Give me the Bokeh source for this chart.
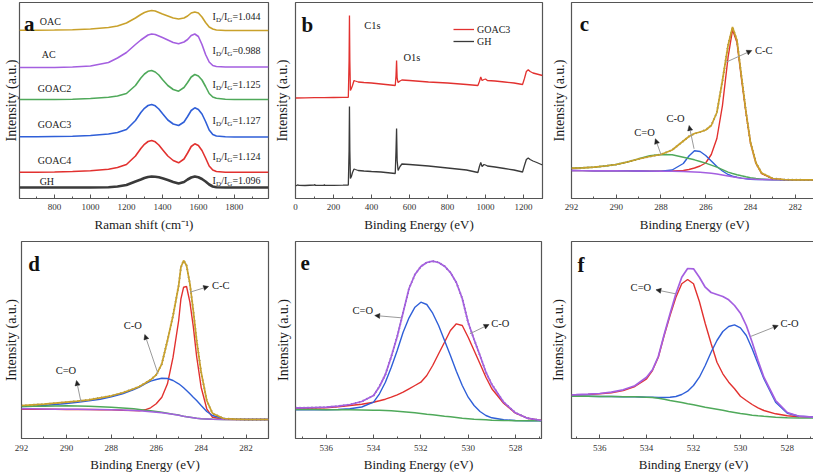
from bokeh.plotting import figure
from bokeh.layouts import column, row
from bokeh.models import Range1d, FixedTicker, Arrow, NormalHead, ColumnDataSource
from bokeh.core.properties import value
from bokeh.embed import file_html
from bokeh.resources import INLINE

FONT = "Liberation Serif"
RED = "#E2312F"
BLUE = "#2F5FD8"
GREEN = "#4FA95A"
PURPLE = "#A45FE0"
GOLD = "#C9A12B"
GREY = "#3A3A3A"
RAW = "#4A4A4A"

# ---------------- panel a : Raman ----------------
RAMAN_SHIFT = [605, 700, 800, 900, 1000, 1100, 1150, 1200, 1250, 1280, 1300, 1320, 1340, 1360, 1380,
               1400, 1430, 1460, 1490, 1520, 1540, 1560, 1580, 1600, 1620, 1640, 1660, 1680, 1700,
               1750, 1800, 1900, 1990]
RAMAN_OAC = [170.3, 170.3, 170.5, 170.8, 171.5, 173, 174.5, 177.5, 182.5, 186, 188, 189.3, 190, 189.5, 188,
             186.5, 184.5, 182.5, 181.5, 182.5, 184.5, 187.5, 188.5, 187.5, 183.5, 178, 173.5, 171.5, 170.5,
             170, 170, 170, 170]
RAMAN_AC = [133, 133, 133, 133.5, 134.5, 138, 142.5, 148, 156, 160.5, 163, 165.5, 166.5, 166, 164.5,
            163, 160.5, 158, 156.7, 158.5, 161, 165, 166.5, 164, 156, 146, 138.5, 135, 134,
            133.5, 133.5, 133.5, 133.5]
RAMAN_GOAC2 = [101, 101, 101, 101.3, 102, 103.3, 104.5, 107, 115, 122.5, 126.5, 129.2, 130, 128.5, 125.5,
               121, 115, 111, 109.3, 113, 118, 123.5, 126, 124.5, 120.5, 114, 107, 103.5, 102.2,
               101.3, 101, 101, 101]
RAMAN_GOAC3 = [63.7, 63.7, 64, 64.3, 65, 66.5, 68, 71, 80, 88, 92.2, 95, 96, 94.7, 91.5,
               87, 80.5, 76.5, 75, 78.5, 84, 90, 92.7, 91, 86.5, 79, 70.5, 66, 64.5,
               63.7, 63.5, 63.5, 63.5]
RAMAN_GOAC4 = [28.2, 28.3, 28.5, 29, 29.7, 31.3, 33, 36, 44.5, 52, 56.2, 59, 60, 58.7, 55.5,
               51, 44.5, 40, 37.7, 41.5, 47.5, 54, 56.7, 55, 50, 42.5, 34.5, 30.5, 29,
               28.3, 28.2, 28.2, 28.2]
RAMAN_GH = [13, 13, 13, 13, 13, 13.3, 14, 15.5, 19, 21, 22.5, 23.5, 24, 23.8, 23.2,
            22.2, 20.5, 18.5, 17, 18.5, 21, 23, 24, 23.2, 21.5, 19, 16, 14, 13.2,
            13, 13, 13, 13]
SAMPLE_NAMES = ["OAC", "AC", "GOAC2", "GOAC3", "GOAC4", "GH"]
SAMPLE_X = [718, 729, 707, 707, 707, 717]
SAMPLE_Y = [179.3, 146, 112, 76, 40, 19.3]
RATIO_VALUES = ["1.044", "0.988", "1.125", "1.127", "1.124", "1.096"]
RATIO_X = [1679] * 6
RATIO_Y = [184, 150, 115.7, 80, 44, 20]

# ---------------- panel b : survey ----------------
SURVEY_BE_GOAC3 = [0, 50, 100, 150, 200, 250, 278, 282, 284, 286, 289, 294, 300, 308, 315, 330, 360, 400,
                   450, 500, 525, 529, 532, 535, 540, 550, 560, 600, 700, 800, 900, 960, 968, 975, 982,
                   992, 1000, 1010, 1050, 1100, 1150, 1195, 1205, 1215, 1225, 1235, 1250, 1270, 1300]
SURVEY_GOAC3 = [102.5, 102.7, 102.8, 102.9, 103, 103.1, 103.2, 140, 185, 140, 110, 112, 115, 120, 119.5,
                118.5, 118, 117.5, 116.5, 115.5, 115, 125, 140, 122, 118, 119.5, 120.5, 120, 118.5, 117.5,
                116, 115, 119, 123.5, 120, 121, 121.5, 120, 119.5, 118.5, 117.5, 116, 122, 129, 130.7,
                129, 127.5, 126.5, 125]
SURVEY_BE_GH = [0, 10, 20, 50, 100, 102, 104, 150, 152, 154, 200, 250, 278, 282, 284, 286, 289, 294, 300,
                308, 315, 330, 360, 400, 450, 500, 525, 529, 532, 535, 540, 550, 560, 600, 700, 800, 900,
                960, 968, 975, 982, 992, 1000, 1010, 1050, 1100, 1150, 1195, 1205, 1215, 1225, 1235,
                1250, 1270, 1300]
SURVEY_GH = [14.5, 15.5, 15.2, 15, 15.5, 16, 15.2, 15.2, 15.8, 15.2, 15.2, 15.3, 15.4, 50, 94, 50, 22, 24,
             28, 31.5, 31, 30, 29.5, 29, 28.5, 27.5, 27, 50, 72, 40, 30, 34, 36.5, 36, 34.5, 32.5, 30.5,
             28, 34, 38, 34, 36, 35.5, 34.5, 33.5, 32, 30.5, 28.5, 35, 41, 42.5, 41, 39.5, 38, 35.5]

# ---------------- panel c : C1s GOAC3 ----------------
C_BE = [292, 291.5, 291, 290.5, 290, 289.5, 289, 288.5, 288, 287.5, 287, 286.75, 286.5, 286.25, 286,
        285.75, 285.5, 285.25, 285, 284.8, 284.6, 284.4, 284.2, 284, 283.75, 283.5, 283, 282.5, 282,
        281.5, 281]
C_BG = [30, 29.9, 29.8, 29.75, 29.7, 29.6, 29.5, 29.4, 29.3, 29.2, 29, 28.8, 28.5, 28.2, 27.8, 27.2,
        26.5, 25.5, 24.5, 23.7, 23, 22.4, 21.9, 21.5, 21.2, 21, 20.8, 20.7, 20.7, 20.6, 20.5]
C_CO2 = [32.3, 32.8, 33.3, 34.5, 36, 38.5, 41.7, 44.7, 46, 45.7, 43.3, 42, 40.7, 39, 37.3, 35.3,
         33.3, 30.8, 28.3, 27, 25.8, 24.7, 23.7, 22.8, 22, 21.3, 20.9, 20.8, 20.7, 20.6, 20.5]
C_CO = [30, 29.9, 29.8, 29.75, 29.7, 29.6, 29.5, 29.4, 29.4, 30.5, 37, 44.5, 49.8, 49, 45, 39.5,
        34, 29.5, 26, 24.3, 23.2, 22.4, 21.8, 21.3, 21, 21, 20.8, 20.7, 20.7, 20.6, 20.5]
C_CC = [30, 29.9, 29.8, 29.75, 29.7, 29.6, 29.5, 29.4, 29.4, 29.5, 30, 31, 32.5, 34.5, 37.5, 46,
        62, 95, 143, 170.7, 158, 122, 88, 58, 37, 27, 21.7, 20.8, 20.7, 20.6, 20.5]
C_FIT = [32.3, 32.7, 33.3, 34.5, 36, 38.5, 41.5, 44, 46, 50.5, 59.5, 64, 67, 68.5, 70.5, 75,
         88, 120, 155, 173.5, 160, 124, 89, 58.5, 37.5, 27.5, 22, 21, 20.7, 20.6, 20.5]

# ---------------- panel d : C1s GH ----------------
D_BE = [292, 291.5, 291, 290.5, 290, 289.5, 289, 288.5, 288, 287.5, 287, 286.75, 286.5, 286.25, 286,
        285.75, 285.5, 285.25, 285, 284.9, 284.78, 284.65, 284.5, 284.35, 284.2, 284, 283.75, 283.5,
        283, 282.5, 282, 281.5, 281]
D_BG = [31.7, 31.7, 31.5, 31.3, 31.3, 31.2, 31, 31, 30.8, 30.5, 30, 29.7, 29.3, 28.8, 28.3, 27.7, 27,
        26.2, 25.3, 24.8, 24.3, 23.8, 23.3, 22.8, 22.3, 21.8, 21.5, 21.2, 21, 21, 21, 21, 21]
D_CO2 = [34, 34.2, 34.3, 34.5, 34.7, 34.5, 34.3, 33.8, 33.3, 32.5, 31.7, 31, 30.3, 29.7, 29, 28.2,
         27.3, 26.3, 25.5, 24.8, 24.3, 23.8, 23.3, 22.8, 22.3, 21.8, 21.5, 21.2, 21, 21, 21, 21, 21]
D_CO = [34, 34.3, 35, 36, 37, 38.3, 39.7, 41.3, 43.7, 46.7, 51, 53.3, 56.7, 59.3, 61, 62.3, 62, 60,
        56.7, 55, 52.7, 50, 46.7, 43.3, 40, 35, 29, 25, 22, 21.3, 21, 21, 21]
D_CC = [31.3, 31.3, 31.3, 31.2, 31, 31, 31, 30.8, 30.7, 30.3, 30, 29.8, 30.7, 32.7, 36.7, 43.3, 56.7,
        83.3, 120, 141.7, 153.3, 154, 138.3, 114, 84, 53.3, 31.7, 23.3, 21.3, 21, 21, 21, 21]
D_FIT = [35, 35.7, 36.3, 37.3, 38.3, 39.3, 40.7, 42.7, 44.7, 47.7, 51.7, 54, 57.3, 60.7, 65.7, 76.7,
         100, 125, 155, 173.3, 180, 175, 156.7, 130, 100, 68.3, 40, 27.3, 22, 21.3, 21, 21, 21]

# ---------------- panel e : O1s GOAC3 ----------------
E_BE = [537.3, 537, 536.5, 536, 535.5, 535, 534.5, 534, 533.75, 533.5, 533.25, 533, 532.75, 532.5,
        532.25, 532, 531.75, 531.5, 531.25, 531, 530.75, 530.5, 530.25, 530, 529.75, 529.5, 529.25,
        529, 528.5, 528, 527.5, 526.9]
E_BG = [31, 31, 31, 30.8, 30.8, 30.7, 30.5, 30.3, 30.2, 30, 29.7, 29.3, 28.8, 28.3, 27.7, 27, 26.3,
        25.7, 25, 24.3, 23.7, 23, 22.3, 21.8, 21.3, 21, 20.7, 20.3, 20, 19.8, 19.7, 19.7]
E_CO2 = [30.8, 30.8, 30.8, 30.8, 31, 31.7, 33.5, 38.3, 46.7, 58.3, 73.3, 90, 108.3, 122.7, 133.3,
         138.3, 136, 127.3, 115, 100, 85, 69.3, 55, 43.3, 35, 29, 25, 22.7, 20.7, 20, 19.7, 19.7]
E_CO = [32.3, 32.3, 32.5, 32.8, 33.7, 35, 36.3, 38.3, 39.7, 41.3, 43.3, 45.7, 48.3, 51.7, 55, 58.3,
        65, 75, 86.7, 98.3, 110, 116.7, 115, 103.3, 90, 76.7, 63.3, 51.7, 37.3, 27.3, 22.3, 20]
E_FIT = [32.7, 32.7, 33, 33.3, 34.3, 36, 39, 45, 54, 66, 84, 104, 128, 152, 166, 174, 178, 179.3,
         178, 174.3, 168, 158, 142, 118, 101, 85, 68.3, 56, 38.3, 27.7, 22.3, 20]

# ---------------- panel f : O1s GH ----------------
F_BE = [537.2, 537, 536.5, 536, 535.5, 535, 534.5, 534, 533.75, 533.5, 533.25, 533, 532.75, 532.5,
        532.25, 532, 531.75, 531.5, 531.25, 531, 530.75, 530.5, 530.25, 530, 529.75, 529.5, 529.25,
        529, 528.5, 528, 527.5, 526.8]
F_BG = [44.3, 44.3, 44.2, 44, 44, 43.8, 43.7, 43.3, 43, 42.3, 41.3, 40, 39, 38, 36.7, 35.7, 34.5,
        33.3, 32.3, 31.3, 30.2, 29, 28, 27, 26.2, 25.3, 24.7, 24.2, 23.3, 22.8, 22.5, 22.3]
F_CO2 = [45.3, 45.5, 46, 46.7, 47.7, 50, 54, 61.7, 70, 83.3, 105, 125, 143.3, 156.7, 161, 156.7, 139,
         117, 97, 78.3, 66.7, 58.3, 51.7, 44.3, 40, 36, 32.7, 30, 26.7, 24.7, 23.7, 23]
F_CO = [44.3, 44.3, 44.2, 44, 44, 43.8, 43.7, 43.3, 43.2, 43, 43, 43.2, 44, 46, 49.3, 55, 63.3, 75,
        88.3, 100, 109, 114, 115.7, 112.7, 105, 91.7, 76.7, 61.7, 38.3, 27.3, 24.3, 23.3]
F_FIT = [45.7, 45.8, 46.3, 47, 48.3, 50.7, 54.7, 63.3, 70.7, 84, 106, 126.7, 146.7, 163.3, 172, 171.7,
         163.3, 153.3, 148, 146, 144, 140.7, 135, 127.3, 115, 98.3, 80, 63.3, 40, 28, 24.3, 23.3]


def make_fig(xr, yr, fw, fh, left, right, top, bottom, ticks, minor, xlabel,
             y_standoff, tick_standoff, xlabel_standoff):
    p = figure(frame_width=fw, frame_height=fh, x_range=Range1d(*xr), y_range=Range1d(*yr),
               output_backend="svg", toolbar_location=None,
               min_border_left=left, min_border_right=right,
               min_border_top=top, min_border_bottom=bottom)
    p.grid.visible = False
    p.outline_line_color = "#555555"
    p.outline_line_width = 1.2
    p.outline_line_alpha = 1
    xa = p.xaxis[0]
    xa.ticker = FixedTicker(ticks=ticks, minor_ticks=minor)
    xa.axis_line_color = "#555555"
    xa.major_tick_in = 4
    xa.major_tick_out = 0
    xa.minor_tick_in = 2
    xa.minor_tick_out = 0
    xa.major_tick_line_color = "#555555"
    xa.minor_tick_line_color = "#555555"
    xa.major_label_text_font = FONT
    xa.major_label_text_font_size = "9px"
    xa.major_label_text_color = "#333333"
    xa.major_label_standoff = tick_standoff
    xa.axis_label = xlabel
    xa.axis_label_text_font = FONT
    xa.axis_label_text_font_size = "13px"
    xa.axis_label_text_font_style = "normal"
    xa.axis_label_text_color = "#1a1a1a"
    xa.axis_label_standoff = xlabel_standoff
    ya = p.yaxis[0]
    ya.ticker = FixedTicker(ticks=[])
    ya.major_tick_in = 0
    ya.major_tick_out = 0
    ya.minor_tick_in = 0
    ya.minor_tick_out = 0
    ya.axis_line_color = None
    ya.major_label_standoff = 0
    ya.axis_label = "Intensity (a.u.)"
    ya.axis_label_text_font = FONT
    ya.axis_label_text_font_size = "14px"
    ya.axis_label_text_font_style = "normal"
    ya.axis_label_text_color = "#1a1a1a"
    ya.axis_label_standoff = y_standoff
    return p


def add_text(p, xs, ys, texts, size="10.5px", **kw):
    p.text(x=xs, y=ys, text=texts, text_font=value(FONT), text_font_size=size,
           text_color="#1a1a1a", text_baseline="middle", text_align="left", **kw)


def add_letter(p, x, y, letter):
    p.text(x=[x], y=[y], text=[letter], text_font=value(FONT), text_font_size="21px",
           text_font_style="bold", text_color="#111111", text_baseline="alphabetic",
           text_align="left")


def add_arrows(p, x0, y0, x1, y1):
    src = ColumnDataSource(dict(x0=x0, y0=y0, x1=x1, y1=y1))
    p.add_layout(Arrow(source=src, x_start="x0", y_start="y0", x_end="x1", y_end="y1",
                       line_color="#9a9a9a", line_width=1,
                       end=NormalHead(size=5, fill_color="#222222", line_color="#222222",
                                      line_width=0.5)))


def add_raw(p, xs, ys):
    p.line(xs, ys, line_color=RAW, line_width=2.0, line_dash="1 3", line_alpha=0.75)


ROW1 = dict(top=2, bottom=38, fh=196, tick_standoff=5, xlabel_standoff=4)
ROW2 = dict(top=5, bottom=35, fh=197, tick_standoff=6, xlabel_standoff=3)

# ---- a ----
pa = make_fig((605, 1990), (2, 198), 249, ROW1["fh"], 17, 3, ROW1["top"], ROW1["bottom"],
              [800, 1000, 1200, 1400, 1600, 1800], [700, 900, 1100, 1300, 1500, 1700, 1900],
              "Raman shift (cm\u207b\u00b9)", 1, ROW1["tick_standoff"], ROW1["xlabel_standoff"])
pa.line(RAMAN_SHIFT, RAMAN_GH, line_color=GREY, line_width=2.6)
pa.line(RAMAN_SHIFT, RAMAN_GOAC4, line_color=RED, line_width=1.6)
pa.line(RAMAN_SHIFT, RAMAN_GOAC3, line_color=BLUE, line_width=1.6)
pa.line(RAMAN_SHIFT, RAMAN_GOAC2, line_color=GREEN, line_width=1.6)
pa.line(RAMAN_SHIFT, RAMAN_AC, line_color=PURPLE, line_width=1.6)
pa.line(RAMAN_SHIFT, RAMAN_OAC, line_color=GOLD, line_width=1.6)
add_text(pa, SAMPLE_X, SAMPLE_Y, SAMPLE_NAMES, size="10px")
add_text(pa, RATIO_X, RATIO_Y, ["I"] * 6, size="10px")
add_text(pa, RATIO_X, RATIO_Y, ["D"] * 6, size="7px", x_offset=3.4, y_offset=3)
add_text(pa, RATIO_X, RATIO_Y, ["/I"] * 6, size="10px", x_offset=8.6)
add_text(pa, RATIO_X, RATIO_Y, ["G"] * 6, size="7px", x_offset=14.7, y_offset=3)
add_text(pa, RATIO_X, RATIO_Y, ["=" + v for v in RATIO_VALUES], size="10px", x_offset=19.8)
add_letter(pa, 629.5, 176.7, "a")

# ---- b ----
pb = make_fig((0, 1300), (2, 198), 247, ROW1["fh"], 22, 6, ROW1["top"], ROW1["bottom"],
              [0, 200, 400, 600, 800, 1000, 1200], [100, 300, 500, 700, 900, 1100, 1300],
              "Binding Energy (eV)", 6, ROW1["tick_standoff"], ROW1["xlabel_standoff"])
pb.line(SURVEY_BE_GOAC3, SURVEY_GOAC3, line_color=RED, line_width=1.3, legend_label="GOAC3")
pb.line(SURVEY_BE_GH, SURVEY_GH, line_color=GREY, line_width=1.3, legend_label="GH")
add_text(pb, [362, 568], [175, 143.3], ["C1s", "O1s"], size="10.5px")
add_letter(pb, 32, 176, "b")
leg = pb.legend[0]
leg.location = (158, 151)
leg.border_line_color = None
leg.background_fill_alpha = 0
leg.padding = 0
leg.margin = 0
leg.spacing = 0
leg.glyph_width = 21
leg.glyph_height = 12
leg.label_height = 12
leg.label_standoff = 3
leg.label_text_font = FONT
leg.label_text_font_size = "10px"
leg.label_text_color = "#1a1a1a"

# ---- c ----
pc = make_fig((292, 281), (2, 198), 246, ROW1["fh"], 21, 2, ROW1["top"], ROW1["bottom"],
              [292, 290, 288, 286, 284, 282], [291, 289, 287, 285, 283, 281],
              "Binding Energy (eV)", 5, ROW1["tick_standoff"], ROW1["xlabel_standoff"])
pc.line(C_BE, C_CC, line_color=RED, line_width=1.4)
pc.line(C_BE, C_CO, line_color=BLUE, line_width=1.4)
pc.line(C_BE, C_CO2, line_color=GREEN, line_width=1.4)
pc.line(C_BE, C_BG, line_color=PURPLE, line_width=1.4)
add_raw(pc, C_BE, C_FIT)
pc.line(C_BE, C_FIT, line_color=GOLD, line_width=1.7)
add_arrows(pc, [285.09, 286.52, 288.0], [138.3, 51.7, 46], [283.94, 286.74, 288.25], [150, 75, 61.7])
add_text(pc, [283.8, 287.75, 289.19], [150, 82.3, 68.3], ["C-C", "C-O", "C=O"])
add_letter(pc, 291.63, 176.7, "c")

# ---- d ----
pd_ = make_fig((292, 281), (2, 199), 247, ROW2["fh"], 19, 4, ROW2["top"], ROW2["bottom"],
               [292, 290, 288, 286, 284, 282], [291, 289, 287, 285, 283, 281],
               "Binding Energy (eV)", 3, ROW2["tick_standoff"], ROW2["xlabel_standoff"])
pd_.line(D_BE, D_CC, line_color=RED, line_width=1.4)
pd_.line(D_BE, D_CO, line_color=BLUE, line_width=1.4)
pd_.line(D_BE, D_CO2, line_color=GREEN, line_width=1.4)
pd_.line(D_BE, D_BG, line_color=PURPLE, line_width=1.4)
add_raw(pd_, D_BE, D_FIT)
pd_.line(D_BE, D_FIT, line_color=GOLD, line_width=1.7)
add_arrows(pd_, [284.5, 285.92, 289.35], [148.3, 66.7, 38.3], [283.67, 286.51, 289.55], [154, 106, 60])
add_text(pd_, [283.52, 287.45, 290.48], [155, 115, 70], ["C-C", "C-O", "C=O"])
add_letter(pd_, 291.7, 176.7, "d")

# ---- e ----
pe = make_fig((537.3, 526.9), (2, 199), 246, ROW2["fh"], 22, 6, ROW2["top"], ROW2["bottom"],
              [536, 534, 532, 530, 528], [537, 535, 533, 531, 529, 527],
              "Binding Energy (eV)", 5, ROW2["tick_standoff"], ROW2["xlabel_standoff"])
pe.line(E_BE, E_CO, line_color=RED, line_width=1.4)
pe.line(E_BE, E_CO2, line_color=BLUE, line_width=1.4)
pe.line(E_BE, E_BG, line_color=GREEN, line_width=1.4)
add_raw(pe, E_BE, E_FIT)
pe.line(E_BE, E_FIT, line_color=PURPLE, line_width=1.7)
add_arrows(pe, [532.82, 529.93], [122.7, 106.7], [533.95, 529.12], [125, 116])
add_text(pe, [534.89, 529.02], [130, 117.3], ["C=O", "C-O"])
add_letter(pe, 537.09, 177.7, "e")

# ---- f ----
pf = make_fig((537.2, 526.8), (2, 199), 244, ROW2["fh"], 22, 3, ROW2["top"], ROW2["bottom"],
              [536, 534, 532, 530, 528], [537, 535, 533, 531, 529, 527],
              "Binding Energy (eV)", 6, ROW2["tick_standoff"], ROW2["xlabel_standoff"])
pf.line(F_BE, F_CO2, line_color=RED, line_width=1.4)
pf.line(F_BE, F_CO, line_color=BLUE, line_width=1.4)
pf.line(F_BE, F_BG, line_color=GREEN, line_width=1.4)
pf.line(F_BE, F_FIT, line_color=PURPLE, line_width=1.7)
add_arrows(pf, [532.76, 529.57], [146.7, 104], [533.6, 528.39], [150.7, 115])
add_text(pf, [534.68, 528.29], [152.7, 116.7], ["C=O", "C-O"])
add_letter(pf, 536.94, 176, "f")

layout = column(row(pa, pb, pc), row(pd_, pe, pf))
open("out.html", "w").write(file_html(layout, INLINE))
